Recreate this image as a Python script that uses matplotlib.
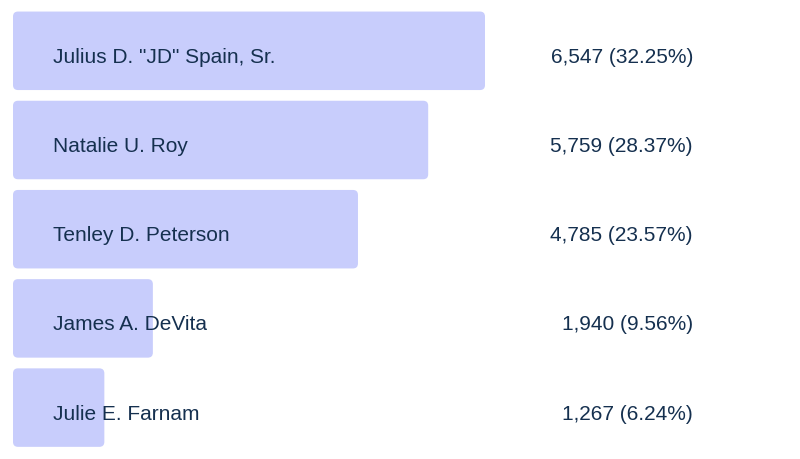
import matplotlib
matplotlib.use('Agg')
import matplotlib.pyplot as plt
from matplotlib.patches import FancyBboxPatch

candidates = ['Julius D. "JD" Spain, Sr.', 'Natalie U. Roy', 'Tenley D. Peterson',
              'James A. DeVita', 'Julie E. Farnam']
votes = [6547, 5759, 4785, 1940, 1267]
shares = [32.25, 28.37, 23.57, 9.56, 6.24]

bar_color = '#c8cdfc'
text_color = '#15304f'

fig = plt.figure(figsize=(8, 4.6), dpi=100)
ax = fig.add_axes([0, 0, 1, 1])

# pixel layout: bars start at x=13px, biggest bar ends at x=485px
x_per_px = max(votes) / 472.0
ax.set_xlim(-13 * x_per_px, (800 - 13) * x_per_px)
row_px = 89.2
top_px = 51.8
ax.set_ylim((460 - top_px) / row_px, -top_px / row_px)
ax.axis('off')

h = 78.5 / row_px
r = 5 * x_per_px
base = 11 / row_px  # text baseline sits a bit below bar centre
for i, (name, v, s) in enumerate(zip(candidates, votes, shares)):
    p = FancyBboxPatch((0, i - h / 2), v, h,
                       boxstyle='round,pad=0,rounding_size=%f' % r,
                       mutation_aspect=(1 / row_px) / x_per_px,
                       fc=bar_color, ec='none')
    ax.add_patch(p)
    ax.text(40 * x_per_px, i + base, name, va='baseline', ha='left',
            fontsize=15, color=text_color, family='Liberation Sans')
    ax.text(680 * x_per_px, i + base, '{:,} ({:.2f}%)'.format(v, s), va='baseline', ha='right',
            fontsize=15, color=text_color, family='Liberation Sans')

fig.savefig('out.png', dpi=100)
